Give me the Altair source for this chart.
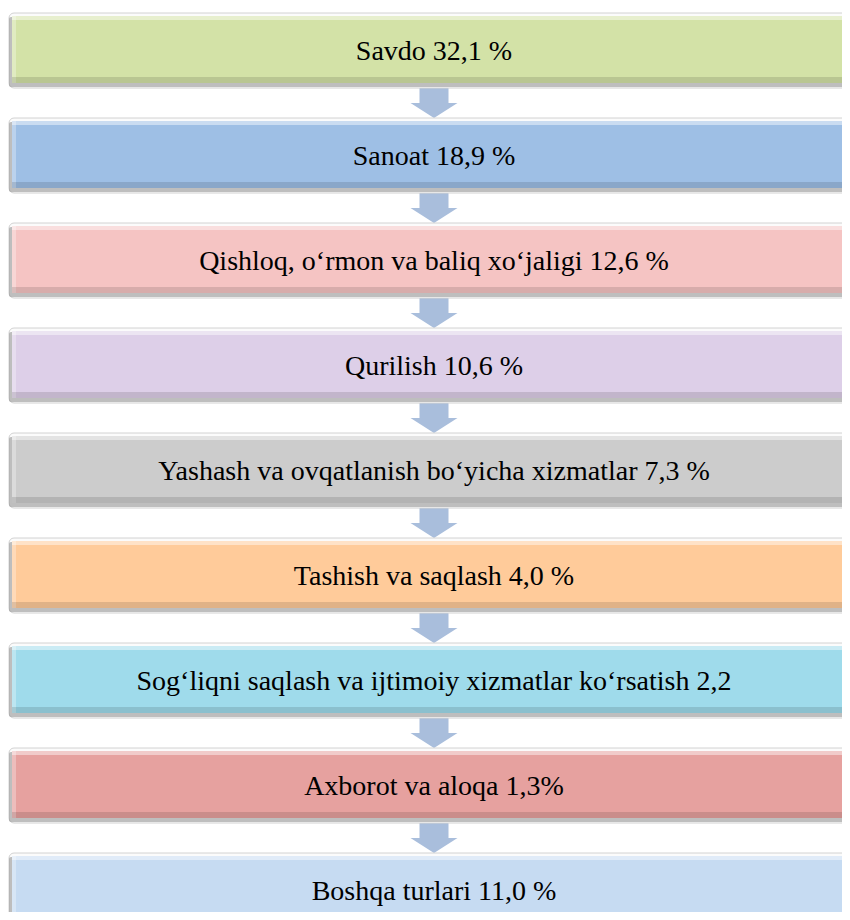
import altair as alt
import pandas as pd

categories = [
    "Savdo",
    "Sanoat",
    "Qishloq, o\u2018rmon va baliq xo\u2018jaligi",
    "Qurilish",
    "Yashash va ovqatlanish bo\u2018yicha xizmatlar",
    "Tashish va saqlash",
    "Sog\u2018liqni saqlash va ijtimoiy xizmatlar ko\u2018rsatish",
    "Axborot va aloqa",
    "Boshqa turlari",
]
values = ["32,1 %", "18,9 %", "12,6 %", "10,6 %", "7,3 %", "4,0 %", "2,2", "1,3%", "11,0 %"]
colors = ["#D3E2A7", "#9EBFE5", "#F5C4C3", "#DDCFE8", "#CCCCCC",
          "#FFCB9A", "#9FDBEB", "#E6A19F", "#C6DBF2"]

df = pd.DataFrame({
    "idx": list(range(len(categories))),
    "label": [f"{c} {v}" for c, v in zip(categories, values)],
    "color": colors,
})

W, H = 834, 904
STEP = 105.0
ysc = alt.Scale(domain=[-5 / STEP, (H - 5) / STEP], reverse=True, nice=False, zero=False)
Y = alt.Y("idx:Q", scale=ysc, axis=None)
Y2 = alt.Y2("idx")

base = alt.Chart(df)

def band(x0, x1, t, b, **kw):
    return base.mark_rect(yOffset=t, y2Offset=b, **kw).encode(
        x=alt.value(x0), x2=alt.value(x1), y=Y, y2=Y2)

arrow_path = ("M-0.617,-0.745 L0.617,-0.745 L0.617,0.106 L1,0.106 "
              "L0,0.745 L-1,0.106 L-0.617,0.106 Z")
arrows = base.transform_filter("datum.idx < 8").mark_point(
    shape=arrow_path, filled=True, size=2209, opacity=1, color="#A9BEDC",
    yOffset=87.5, strokeWidth=0
).encode(x=alt.value(426), y=Y)

frame = band(1, 840, 0, 75, fill="#FBFBFB", stroke="#D2D2D2", strokeWidth=1, cornerRadius=5)
shadow = band(1, 838, 4, 74, fill="#8C8C8C", opacity=0.55, cornerRadius=2)
fill = base.mark_rect(yOffset=3, y2Offset=70).encode(
    x=alt.value(4), x2=alt.value(838), y=Y, y2=Y2,
    color=alt.Color("color:N", scale=None))
top_hl = band(4, 838, 3, 7, fill="white", opacity=0.45)
left_hl = band(4, 8, 3, 70, fill="white", opacity=0.3)
bottom_dk = band(4, 838, 64, 70, fill="black", opacity=0.12)

text = base.mark_text(
    font="Times New Roman, Liberation Serif, DejaVu Serif, serif",
    fontSize=28, color="black",
    align="center", baseline="middle", yOffset=39
).encode(x=alt.value(426), y=Y, text="label:N")

chart = alt.layer(
    arrows, frame, shadow, fill, top_hl, left_hl, bottom_dk, text
).properties(
    width=W, height=H, padding=0, autosize=alt.AutoSizeParams(type="none"),
    background="white"
).configure_view(stroke=None)

chart.save("out.html", embed_options={"renderer": "svg", "actions": False})
